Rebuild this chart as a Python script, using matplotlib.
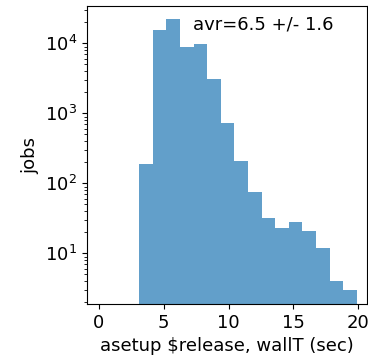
import matplotlib
matplotlib.use("Agg")
import matplotlib.pyplot as plt
import numpy as np

# bin edges (sec) and job counts per bin
edges = [3.1, 4.15, 5.2, 6.25, 7.3, 8.35, 9.4, 10.45, 11.5, 12.55,
         13.6, 14.65, 15.7, 16.75, 17.8, 18.85, 19.9]
counts = [189, 15500, 22000, 8800, 9700, 3060, 720, 208, 76, 32,
          23, 28, 21, 12, 4, 3]
label = "avr=6.5 +/- 1.6"

fig = plt.figure(figsize=(3.68, 3.61), dpi=100)
ax = fig.add_axes([0.236, 0.158, 0.762, 0.825])

centers = (np.array(edges[:-1]) + np.array(edges[1:])) / 2
ax.hist(centers, bins=edges, weights=counts, color="C0", alpha=0.7)
ax.set_yscale("log")
ax.set_xlim(-0.93, 20.7)
ax.set_ylim(1.89, 34000)
ax.set_xticks([0, 5, 10, 15, 20])

ax.text(0.378, 0.94, label, transform=ax.transAxes, fontsize=13,
        va="center", ha="left")
ax.set_xlabel("asetup $release, wallT (sec)", fontsize=13)
ax.set_ylabel("jobs", fontsize=13)
ax.tick_params(labelsize=13)

fig.savefig("out.png", dpi=100)
